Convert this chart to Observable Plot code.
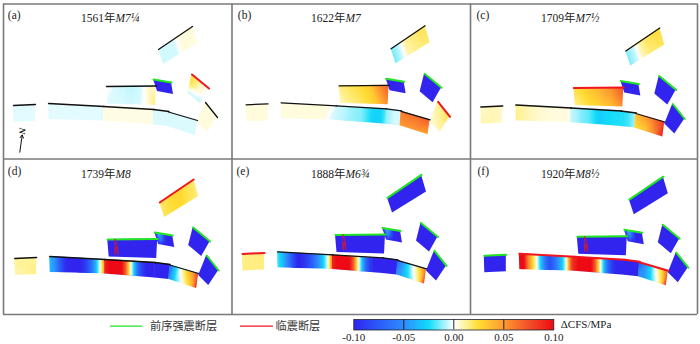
<!DOCTYPE html>
<html><head><meta charset="utf-8">
<script src="https://cdn.jsdelivr.net/npm/d3@7"></script>
<script src="https://cdn.jsdelivr.net/npm/@observablehq/plot@0.6"></script>
<style>html,body{margin:0;padding:0;background:#fff}#c{position:relative;width:700px;height:344px;overflow:hidden}#c svg{position:absolute;background:transparent}</style>
</head><body><div id="c"></div>
<script>
// colour scale
const colorDomain = [-0.1,-0.075,-0.05,-0.025,-0.012,0,0.012,0.025,0.05,0.075,0.1];
const colorRange = ["#3024ee","#2a5cf8","#2f8cff","#12dcfa","#90f0fc","#ffffff","#fff39a","#ffdc32","#ff9a30","#f2502a","#ee0a14"];
// fault quadrilaterals in map units: top-left, top-right, bottom-right, bottom-left
const quadF1 = [[13,105],[35,104],[35,121],[13.5,122]];
const quadF2 = [[48,103],[103.5,106],[103.5,120.5],[48.5,119]];
const quadF3 = [[103,106],[153.5,109],[153.5,124.5],[103,120.5]];
const quadF4 = [[153,109],[168.5,111],[167.5,126],[153,124.5]];
const quadF5 = [[168,111.5],[197,120],[195,135],[167,126]];
const quadF6 = [[205,102],[217,117],[207,132],[197,122]];
const quadF7 = [[106,86],[156,85.5],[155,105],[107.5,103.5]];
const quadF8 = [[153,79],[171,82],[173,94],[157,91]];
const quadF9 = [[191.5,74],[208.5,88],[200,103],[187,92]];
const quadF10 = [[158,49],[192,26],[197,43],[163,64]];
const quads = [quadF1,quadF2,quadF3,quadF4,quadF5,quadF6,quadF7,quadF8,quadF9,quadF10];
// panel labels, offsets
const panelLabels = ["(a)","(b)","(c)","(d)","(e)","(f)"];
const panelYears = ["1561年","1622年","1709年","1739年","1888年","1920年"];
const panelMags = ["M7¼","M7","M7½","M8","M6¾","M8½"];
const panelDx = [0,232.6,467.3,1.2,229,470.8];
const panelDy = [0,-0.7,1.5,153,148.4,150.2];
const labelX = [7.3,237.3,476,7.3,236,477];
const labelY = [15,15,15,171,171,171];
const titleX = [115,345,575,115,345,575];
const titleY = [18,18,18,174,174,174];
// top-edge colours per fault per panel: k black, r red (imminent), g green (previous)
const edgeA = "kkkkkkkgrk";
const edgeB = "kkkkkrkggk";
const edgeC = "kkkkkgrggk";
const edgeD = "kkkkkggggr";
const edgeE = "rkkkkggggg";
const edgeF = "grrrrggggg";
const edges = [edgeA,edgeB,edgeC,edgeD,edgeE,edgeF];
// ΔCFS (MPa): rows down-dip, columns along strike
const B = -0.1;
const blue = [[B]];
const cfsA = [
 [[-0.003]],[[-0.003]],[[0.003]],[[-0.004]],[[-0.004]],[[0.004]],
 [[0.002,-0.004,-0.005,-0.007,-0.005,0.006,0.006],[-0.004,-0.004,-0.004,-0.005,-0.004,0.004,0.016]],
 blue,
 [[0.025,0.012,0.001],[0.022,0.006,0.000],[-0.006,-0.006,-0.006]],
 [[-0.005,-0.005,-0.005,0.004,0.004,0.004]]
];
const cfsB = [
 [[0.004]],
 [[0.004,0.004,0.004,0.004,0.004,0.004,0.004,0.004,0.003,-0.004],[0.004,0.004,0.004,0.004,0.004,0.004,0.004,0.003,-0.004,-0.006]],
 [[-0.005,-0.006,-0.009,-0.012,-0.013,-0.02,-0.027,-0.028,-0.016],[-0.006,-0.007,-0.01,-0.012,-0.014,-0.022,-0.029,-0.027,-0.012]],
 [[-0.012,-0.005,-0.004]],
 [[0.06,0.065,0.07],[0.05,0.05,0.045]],
 [[0.012,0.016,0.022],[0.008,0.012,0.014],[0.004,0.008,0.01]],
 [[0.014,0.02,0.024,0.03,0.055,0.07],[0.008,0.014,0.018,0.024,0.035,0.055]],
 blue,blue,
 [[-0.015,-0.006,0.012,0.016,0.02,0.02],[-0.015,-0.006,0.01,0.013,0.016,0.017]]
];
const cfsC = [
 [[0.006,0.009,0.006],[0.01,0.009,0.006]],
 [[0.012,0.009,0.006,0.004,0.004,0.003],[0.014,0.009,0.006,0.004,0.004,0.003]],
 [[-0.006,-0.009,-0.014,-0.016,-0.022,-0.03,-0.027,-0.025,-0.024,-0.024]],
 [[-0.024,-0.02,-0.008]],
 [[0.035,0.05,0.065,0.085],[0.022,0.03,0.055,0.095]],
 blue,
 [[0.022,0.03,0.04,0.055,0.075],[0.014,0.022,0.028,0.036,0.055]],
 blue,blue,
 [[-0.014,-0.006,0.012,0.02,0.023,0.024],[-0.014,-0.006,0.01,0.016,0.018,0.02]]
];
const arcD = [-0.035,-0.05,-0.075,-0.095,-0.1,-0.1,-0.1,-0.09,-0.07,-0.04,0.0,0.06];
const arcE = [-0.02,-0.035,-0.055,-0.08,-0.1,-0.095,-0.085,-0.07,-0.05,-0.03,0.0,0.07];
const arcF = [0.1,0.1,0.06,0.03,0.003,-0.03,-0.06,-0.08,-0.07,-0.05,-0.03,0.0,0.07,0.1];
const mainD = [0.09,0.1,0.1,0.1,0.1,0.07,0.012,-0.03,-0.07,-0.09,-0.1,-0.1,-0.1];
const endD = [[-0.07,-0.03,0.004,0.03,0.05,0.085],[-0.05,-0.025,-0.006,0.014,0.035,0.095]];
const endE = [[-0.07,-0.045,-0.02,0.006,0.03,0.07],[-0.05,-0.04,-0.025,-0.004,0.02,0.09]];
const endF = [[-0.075,-0.05,-0.025,0.005,0.03,0.075],[-0.05,-0.045,-0.03,-0.006,0.02,0.095]];
const spot = [[B,-0.03,-0.06,B,B,B],[B,-0.05,-0.08,B,B,B],[B,B,B,B,B,B]];
const cfsD = [
 [[0.012,0.012,0.012],[0.008,0.012,0.014]],[arcD],[mainD],blue,endD,blue,blue,spot,blue,
 [[0.018,0.024,0.028,0.022,0.018],[0.02,0.024,0.026,0.02,0.016]]
];
const cfsE = [[[0.015]],[arcE],[mainD],blue,endE,blue,blue,spot,blue,blue];
const cfsF = [blue,[arcF],[mainD],blue,endF,blue,blue,spot,blue,blue];
const cfs = [cfsA,cfsB,cfsC,cfsD,cfsE,cfsF];
// small rupture trace on the central fault in the later panels
const traceX = [113.5,115.5,116.5,114.5,113.5,113,113.5];
const traceY = [86,92,101,93,101,93,86];
// frame lines of the six panels
const frameXs = [3,231.5,470,697];
const frameYs = [3.5,158.5,314];
// legend
const legendLineX = [[110,141],[240,272]];
const legendY = 325.7;
const legendTextX = [149.5,275];
const legendText = ["前序强震断层","临震断层"];
const legendColors = ["#22e822","#f0142a"];
const northArrow = {x1:19.3,y1:151.7,x2:21.7,y2:134.5};
const edgeColor = {k:"#111",r:"#f2141e",g:"#22e622"};
const edgeWidth = {k:1.3,r:2,g:2};
const colorTicks = [-0.1,-0.05,0,0.05,0.1];
const colorSeps = [-0.05,0,0.05];

const serif = '"Liberation Serif","Noto Sans CJK SC",serif';
const colorOpt = {type:"linear",domain:colorDomain,range:colorRange,clamp:true};
const marks = [];
let uid = 0;
function clipTo(poly){
  return (index,scales,values,dims,ctx,next)=>{
    const g = next(index,scales,values,dims,ctx);
    const id = "fc"+(uid++);
    const cp = document.createElementNS("http://www.w3.org/2000/svg","clipPath");
    cp.setAttribute("id",id);
    const p = document.createElementNS("http://www.w3.org/2000/svg","polygon");
    p.setAttribute("points",poly.map(([x,y])=>`${scales.x(x)},${scales.y(y)}`).join(" "));
    cp.appendChild(p);
    const w = document.createElementNS("http://www.w3.org/2000/svg","g");
    w.setAttribute("clip-path",`url(#${id})`);
    const o = document.createElementNS("http://www.w3.org/2000/svg","g");
    o.appendChild(cp); o.appendChild(w); w.appendChild(g);
    return o;
  };
}
panelLabels.forEach((lab,pi)=>{
  const dx = panelDx[pi], dy = panelDy[pi];
  quads.forEach((q,fi)=>{
    const poly = q.map(([x,y])=>[x+dx,y+dy]);
    let grid = cfs[pi][fi];
    if (grid.length===1) grid = [grid[0],grid[0]];
    grid = grid.map(r=>r.length===1?[r[0],r[0]]:r);
    const pts = [];
    grid.forEach((row,i)=>row.forEach((val,j)=>{
      const u = j/(row.length-1), v = i/(grid.length-1);
      const tx = poly[0][0]+(poly[1][0]-poly[0][0])*u, ty = poly[0][1]+(poly[1][1]-poly[0][1])*u;
      const bx = poly[3][0]+(poly[2][0]-poly[3][0])*u, by = poly[3][1]+(poly[2][1]-poly[3][1])*u;
      pts.push({x:tx+(bx-tx)*v,y:ty+(by-ty)*v,val});
    }));
    const xs = poly.map(d=>d[0]), ys = poly.map(d=>d[1]);
    marks.push(Plot.raster(pts,{x:"x",y:"y",fill:"val",interpolate:"barycentric",pixelSize:0.5,
      x1:Math.floor(d3.min(xs))-1,x2:Math.ceil(d3.max(xs))+1,y1:Math.floor(d3.min(ys))-1,y2:Math.ceil(d3.max(ys))+1,
      render:clipTo(poly)}));
  });
  quads.forEach((q,fi)=>{
    const c = edges[pi][fi];
    marks.push(Plot.line([q[0],q[1]],{x:d=>d[0]+dx,y:d=>d[1]+dy,stroke:edgeColor[c],strokeWidth:edgeWidth[c]}));
  });
  if (pi>=3) marks.push(Plot.line(traceX.map((x,i)=>[x+dx,traceY[i]+dy]),{x:"0",y:"1",stroke:"#e01820",strokeWidth:0.8}));
  marks.push(Plot.text([lab],{x:labelX[pi],y:labelY[pi],text:d=>d,textAnchor:"start",fontSize:11.5,fontFamily:serif,fill:"#222"}));
  marks.push(Plot.text([panelYears[pi]],{x:titleX[pi],y:titleY[pi],text:d=>d,textAnchor:"end",fontSize:11.5,fontFamily:serif,fill:"#222"}));
  marks.push(Plot.text([panelMags[pi]],{x:titleX[pi],y:titleY[pi],text:d=>d,textAnchor:"start",fontSize:11.5,fontStyle:"italic",fontFamily:serif,fill:"#222"}));
});
frameXs.forEach(x=>marks.push(Plot.ruleX([x],{y1:frameYs[0],y2:frameYs[2],stroke:"#7a7a7a",strokeWidth:1.6})));
frameYs.forEach(y=>marks.push(Plot.ruleY([y],{x1:frameXs[0],x2:frameXs[3],stroke:"#7a7a7a",strokeWidth:1.6})));
marks.push(Plot.arrow([northArrow],{x1:"x1",y1:"y1",x2:"x2",y2:"y2",stroke:"#111",strokeWidth:1,headLength:5,bend:0}));
marks.push(Plot.text(["N"],{x:21.7,y:130.5,text:d=>d,rotate:95,fontSize:9,fontWeight:"bold",fontStyle:"italic",fontFamily:serif,fill:"#111"}));
legendLineX.forEach((xs,i)=>{
  marks.push(Plot.line(xs.map(x=>[x,legendY]),{x:"0",y:"1",stroke:legendColors[i],strokeWidth:1.3}));
  marks.push(Plot.text([legendText[i]],{x:legendTextX[i],y:legendY,text:d=>d,textAnchor:"start",fontSize:11.2,fontFamily:serif,fill:"#333"}));
});
const main = Plot.plot({width:700,height:344,margin:0,x:{domain:[0,700],range:[0,700],axis:null},y:{domain:[0,344],range:[0,344],axis:null},color:colorOpt,style:{background:"transparent"},marks});
main.style.left="0";main.style.top="0";
const bar = Plot.plot({width:360,height:29,marginLeft:13.3,marginRight:146.7,marginTop:4,marginBottom:14.5,
  x:{domain:[-0.1,0.1],axis:null},y:{domain:[0,1],axis:null},color:colorOpt,style:{background:"transparent",overflow:"visible"},
  marks:[
    Plot.raster({fill:(x,y)=>x,x1:-0.1,x2:0.1,y1:0,y2:1,width:200,height:10}),
    Plot.ruleX(colorSeps,{stroke:"#223",strokeWidth:1}),
    Plot.frame({stroke:"#223",strokeWidth:0.8}),
    Plot.text(colorTicks,{x:d=>d,frameAnchor:"bottom",lineAnchor:"middle",dy:7.5,text:d=>d3.format(".2f")(d).replace("−","-"),fontSize:11,fontFamily:serif,fill:"#222"}),
    Plot.text(["ΔCFS/MPa"],{x:()=>0.1,frameAnchor:"middle",dx:7,text:d=>d,textAnchor:"start",fontSize:11,fontFamily:serif,fill:"#222"})
  ]});
bar.style.left="340px";bar.style.top="315px";
const c=document.getElementById("c");c.append(main,bar);
</script></body></html>
